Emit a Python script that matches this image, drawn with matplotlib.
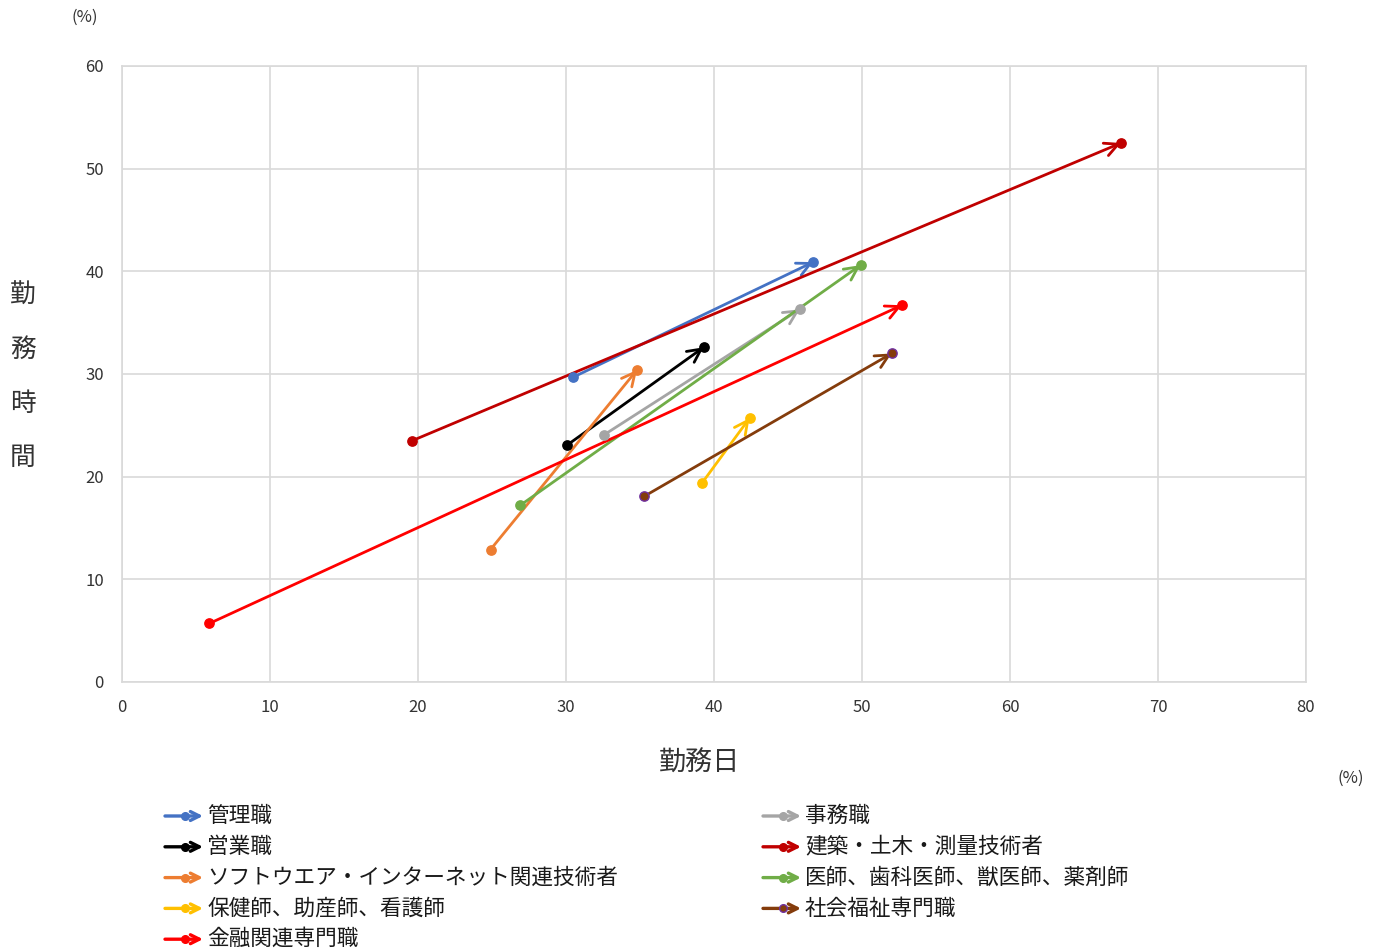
import matplotlib.pyplot as plt
from matplotlib.patches import FancyArrowPatch
from matplotlib.lines import Line2D

plt.rcParams['font.family'] = ['Noto Sans CJK JP', 'DejaVu Sans']

# 職種ごとの勤務日・勤務時間の割合 (始点 -> 終点)
jobs = ['管理職', '事務職', '営業職', '建築・土木・測量技術者',
        'ソフトウエア・インターネット関連技術者', '医師、歯科医師、獣医師、薬剤師',
        '保健師、助産師、看護師', '社会福祉専門職', '金融関連専門職']
x_start = [30.5, 32.6, 30.1, 19.6, 24.9, 26.9, 39.2, 35.3, 5.9]
y_start = [29.7, 24.1, 23.1, 23.5, 12.9, 17.2, 19.4, 18.1, 5.7]
x_end = [46.7, 45.8, 39.3, 67.5, 34.8, 49.9, 42.4, 52.0, 52.7]
y_end = [40.9, 36.3, 32.6, 52.5, 30.4, 40.6, 25.7, 32.0, 36.7]
colors = ['#4472C4', '#A5A5A5', '#000000', '#C00000', '#ED7D31',
          '#70AD47', '#FFC000', '#843C0C', '#FF0000']
edge = ['#4472C4', '#A5A5A5', '#000000', '#C00000', '#ED7D31',
        '#70AD47', '#FFC000', '#7030A0', '#FF0000']
txt = '#333333'

fig = plt.figure(figsize=(13.83, 9.51), dpi=100)
W, H = 1383, 951
ax = fig.add_axes([122 / W, 1 - 682 / H, (1306 - 122) / W, (682 - 66) / H])

ax.set_xlim(0, 80)
ax.set_ylim(0, 60)
ax.set_xticks(range(0, 81, 10))
ax.set_yticks(range(0, 61, 10))
ax.grid(True, color='#D9D9D9', lw=1.2)
ax.set_axisbelow(True)
for s in ax.spines.values():
    s.set_color('#D9D9D9')
    s.set_linewidth(1.2)
ax.tick_params(length=0, labelsize=12, pad=13, colors=txt)
ax.tick_params(axis='x', pad=12)

for i in range(len(jobs)):
    ax.annotate('', xy=(x_end[i], y_end[i]), xytext=(x_start[i], y_start[i]),
                arrowprops=dict(arrowstyle='->', color=colors[i], lw=2.0,
                                mutation_scale=24, shrinkA=0, shrinkB=0))
    ax.scatter([x_start[i], x_end[i]], [y_start[i], y_end[i]], s=45,
               color=colors[i], edgecolors=edge[i], linewidths=1, zorder=5)

# 軸ラベル
fig.text(85 / W, 1 - 17 / H, '(%)', fontsize=12, ha='center', va='center', color=txt)
fig.text(1351 / W, 1 - 778 / H, '(%)', fontsize=12, ha='center', va='center', color=txt)
fig.text(700 / W, 1 - 763 / H, '勤務日', fontsize=19.5, ha='center', va='center', color=txt)
for k, ch in enumerate('勤務時間'):
    fig.text(23 / W, 1 - (296 + k * 54) / H, ch, fontsize=18.5, ha='center', va='center', color=txt)

# 凡例
rows_left = [0, 2, 4, 6, 8]
rows_right = [1, 3, 5, 7]
for col, idxs in ((165, rows_left), (763, rows_right)):
    for r, i in enumerate(idxs):
        yy = 1 - (816 + r * 30.8) / H
        x0, x1 = col / W, (col + 38) / W
        fig.add_artist(FancyArrowPatch((x0, yy), (x1, yy), transform=fig.transFigure,
                                       arrowstyle='->', color=colors[i], lw=2.4,
                                       mutation_scale=16, shrinkA=0, shrinkB=0))
        fig.add_artist(Line2D([(col + 20) / W], [yy], transform=fig.transFigure,
                              marker='o', ms=5.5, color=colors[i], mec=edge[i]))
        fig.text((col + 42) / W, yy, jobs[i], fontsize=15.6, ha='left', va='center', color='#1a1a1a')

fig.savefig('out.png', dpi=100)
